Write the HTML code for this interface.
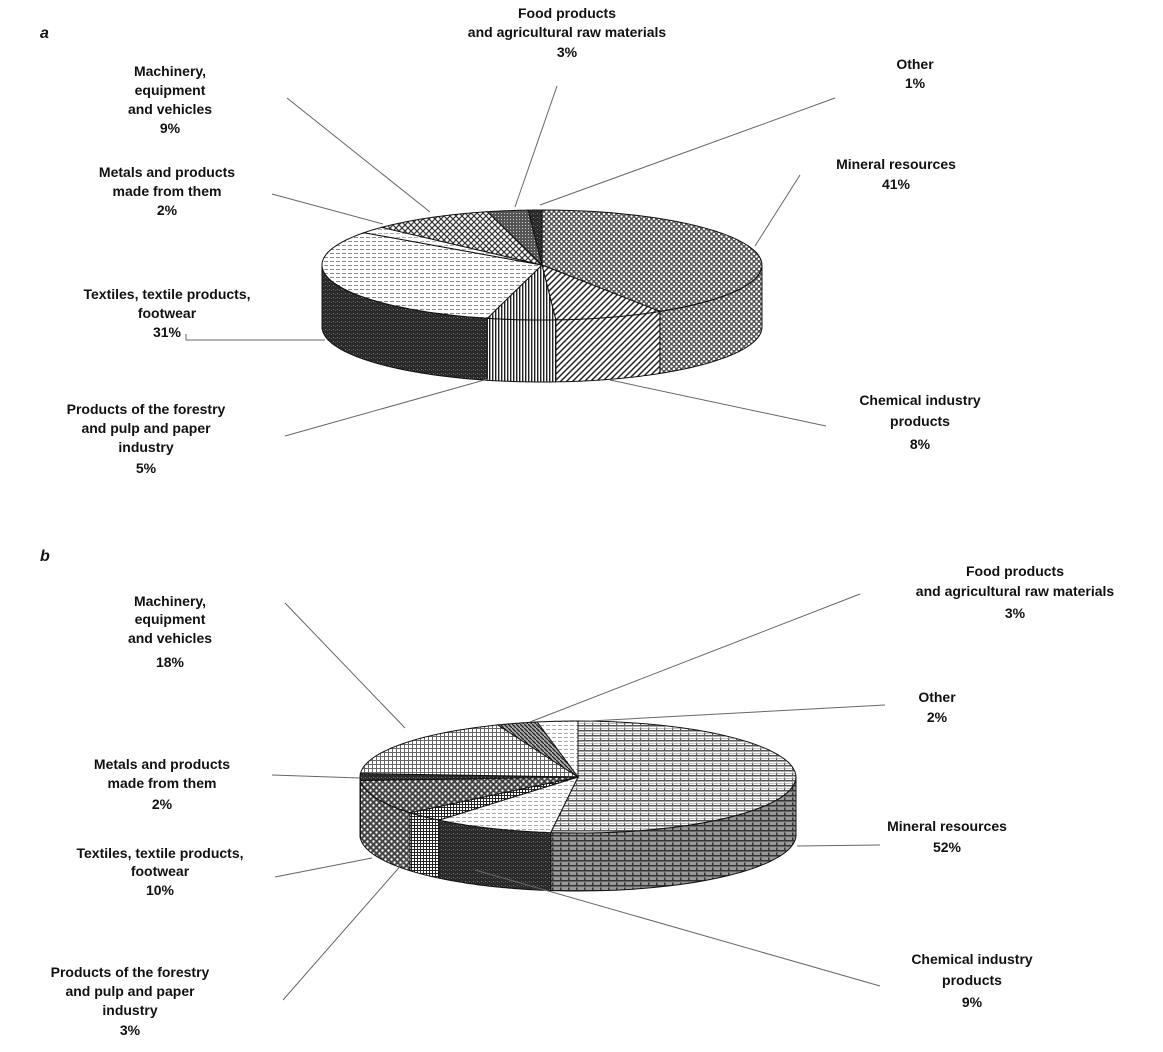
<!DOCTYPE html>
<html><head><meta charset="utf-8"><style>
html,body{margin:0;padding:0;background:#fff;}
svg{display:block;}
text{font-family:"Liberation Sans",Arial,sans-serif;font-weight:bold;font-size:14px;fill:#111;}
.l{stroke:#666;stroke-width:1;fill:none;}
</style></head><body>
<svg id="s" width="1163" height="1052" viewBox="0 0 1163 1052" xmlns="http://www.w3.org/2000/svg">
<defs>
<pattern id="dots" width="5" height="5" patternUnits="userSpaceOnUse"><rect width="5" height="5" fill="#555"/><circle cx="1.5" cy="1.5" r="1.2" fill="#fff"/><circle cx="4" cy="4" r="1.2" fill="#fff"/></pattern>
<pattern id="diag" width="6" height="6" patternUnits="userSpaceOnUse"><rect width="6" height="6" fill="#fff"/><path d="M-1,7 L7,-1 M-1,1 L1,-1 M5,7 L7,5" stroke="#222" stroke-width="1.5"/></pattern>
<pattern id="vert" width="3" height="3" patternUnits="userSpaceOnUse"><rect width="3" height="3" fill="#fff"/><rect width="1.4" height="3" fill="#222"/></pattern>
<pattern id="hdash" width="6" height="4" patternUnits="userSpaceOnUse"><rect width="6" height="4" fill="#fff"/><rect y="1" width="4" height="1" fill="#888"/></pattern>
<pattern id="dark" width="4" height="4" patternUnits="userSpaceOnUse"><rect width="4" height="4" fill="#2a2a2a"/><rect x="1" y="1" width="1" height="1" fill="#777"/><rect x="3" y="2" width="1" height="1" fill="#555"/></pattern>
<pattern id="cross" width="6" height="6" patternUnits="userSpaceOnUse"><rect width="6" height="6" fill="#fff"/><path d="M0,0 L6,6 M6,0 L0,6" stroke="#333" stroke-width="1.2"/></pattern>
<pattern id="fooda" width="3" height="3" patternUnits="userSpaceOnUse"><rect width="3" height="3" fill="#555"/><rect width="1" height="1" fill="#ccc"/></pattern>
<pattern id="brick" width="8" height="5" patternUnits="userSpaceOnUse"><rect width="8" height="5" fill="#fff"/><rect width="8" height="1.5" fill="#555"/><rect x="0" y="2.5" width="1.2" height="2.5" fill="#555"/><rect y="3" width="8" height="0.6" fill="#999"/></pattern>
<pattern id="brickd" width="8" height="5" patternUnits="userSpaceOnUse"><rect width="8" height="5" fill="#999"/><rect width="8" height="1.5" fill="#333"/><rect x="0" y="2.5" width="1.5" height="2.5" fill="#333"/></pattern>
<pattern id="grid" width="4" height="4" patternUnits="userSpaceOnUse"><rect width="4" height="4" fill="#fff"/><path d="M0,0.5 H4 M0.5,0 V4" stroke="#666" stroke-width="1"/></pattern>
<pattern id="vgrid" width="3" height="3" patternUnits="userSpaceOnUse"><rect width="3" height="3" fill="#fff"/><path d="M0,0.5 H3 M0.5,0 V3" stroke="#222" stroke-width="1"/></pattern>
<pattern id="check" width="6" height="6" patternUnits="userSpaceOnUse"><rect width="6" height="6" fill="#444"/><circle cx="1.5" cy="1.5" r="1.2" fill="#fff"/><circle cx="4.5" cy="4.5" r="1.2" fill="#fff"/></pattern>
<pattern id="hat2" width="4" height="4" patternUnits="userSpaceOnUse"><rect width="4" height="4" fill="#aaa"/><path d="M-1,-1 L5,5" stroke="#222" stroke-width="1.3"/></pattern>
<pattern id="light" width="6" height="4" patternUnits="userSpaceOnUse"><rect width="6" height="4" fill="#fff"/><rect y="1" width="4" height="1" fill="#aaa"/></pattern>
</defs>
<g id="pies"></g>

<text x="40" y="38" style="font-style:italic;font-size:16px">a</text>
<g text-anchor="middle">
<text x="567" y="18">Food products</text><text x="567" y="37">and agricultural raw materials</text><text x="567" y="57">3%</text>
<text x="915" y="69">Other</text><text x="915" y="88">1%</text>
<text x="170" y="76">Machinery,</text><text x="170" y="95">equipment</text><text x="170" y="114">and vehicles</text><text x="170" y="133">9%</text>
<text x="167" y="177">Metals and products</text><text x="167" y="196">made from them</text><text x="167" y="215">2%</text>
<text x="896" y="169">Mineral resources</text><text x="896" y="189">41%</text>
<text x="167" y="299">Textiles, textile products,</text><text x="167" y="318">footwear</text><text x="167" y="337">31%</text>
<text x="920" y="405">Chemical industry</text><text x="920" y="426">products</text><text x="920" y="449">8%</text>
<text x="146" y="414">Products of the forestry</text><text x="146" y="433">and pulp and paper</text><text x="146" y="452">industry</text><text x="146" y="473">5%</text>
</g>
<g class="l">
<path d="M557,86 L515,207"/><path d="M835,98 L540,205"/><path d="M287,98 L430,212"/><path d="M272,194 L383,224"/>
<path d="M800,175 L755,246"/><path d="M186,334 L186,340 L325,340"/><path d="M826,426 L610,380"/><path d="M285,436 L488,379"/>
</g>

<text x="40" y="561" style="font-style:italic;font-size:16px">b</text>
<g text-anchor="middle">
<text x="170" y="606">Machinery,</text><text x="170" y="624">equipment</text><text x="170" y="643">and vehicles</text><text x="170" y="667">18%</text>
<text x="1015" y="576">Food products</text><text x="1015" y="596">and agricultural raw materials</text><text x="1015" y="618">3%</text>
<text x="937" y="702">Other</text><text x="937" y="722">2%</text>
<text x="162" y="769">Metals and products</text><text x="162" y="788">made from them</text><text x="162" y="809">2%</text>
<text x="947" y="831">Mineral resources</text><text x="947" y="852">52%</text>
<text x="160" y="858">Textiles, textile products,</text><text x="160" y="876">footwear</text><text x="160" y="895">10%</text>
<text x="130" y="977">Products of the forestry</text><text x="130" y="996">and pulp and paper</text><text x="130" y="1015">industry</text><text x="130" y="1035">3%</text>
<text x="972" y="964">Chemical industry</text><text x="972" y="985">products</text><text x="972" y="1007">9%</text>
</g>
<g class="l">
<path d="M285,603 L405,728"/><path d="M860,594 L530,722"/><path d="M885,705 L590,721"/><path d="M272,775 L360,778"/>
<path d="M880,845 L797,846"/><path d="M275,877 L372,858"/><path d="M283,1000 L410,855"/><path d="M880,986 L475,870"/>
</g>
</svg>
<script>
function pie(cx,cy,rx,ry,d,sl){
  var g=document.getElementById('pies'),out='';
  function P(t,dy){var r=t*Math.PI/180;return [cx+rx*Math.sin(r),cy-ry*Math.cos(r)+(dy||0)];}
  function arc(a,b,dy,n){var s='';n=n||40;for(var i=0;i<=n;i++){var p=P(a+(b-a)*i/n,dy);s+=(i?'L':'')+p[0].toFixed(1)+','+p[1].toFixed(1);}return s;}
  sl.forEach(function(s){
    var a=Math.max(s[0],90),b=Math.min(s[1],270);
    if(b>a){
      var p=arc(a,b,0),q=arc(b,a,d);
      out+='<path d="M'+p+'L'+q+'Z" fill="url(#'+s[3]+')" stroke="#111" stroke-width="1"/>';
    }
  });
  sl.forEach(function(s){
    out+='<path d="M'+cx+','+cy+'L'+arc(s[0],s[1],0)+'Z" fill="url(#'+s[2]+')" stroke="#111" stroke-width="1"/>';
  });
  g.innerHTML+=out;
}
function mk(arr){var t=0,r=[];arr.forEach(function(a){var b=t+a[0]*3.6;r.push([t,b,a[1],a[2]]);t=b;});r[r.length-1][1]=360;return r;}
pie(542,265,220,55,62,mk([[41,'dots','dots'],[8,'diag','diag'],[5,'vert','vert'],[31,'hdash','dark'],[2,'light','light'],[9,'cross','cross'],[3,'fooda','fooda'],[1,'dark','dark']]));
pie(578,777,218,56,58,mk([[52,'brick','brickd'],[9,'light','dark'],[3,'vgrid','vgrid'],[10,'check','check'],[2,'dark','dark'],[18,'grid','grid'],[3,'hat2','hat2'],[3,'light','light']]));
</script>
</body></html>
